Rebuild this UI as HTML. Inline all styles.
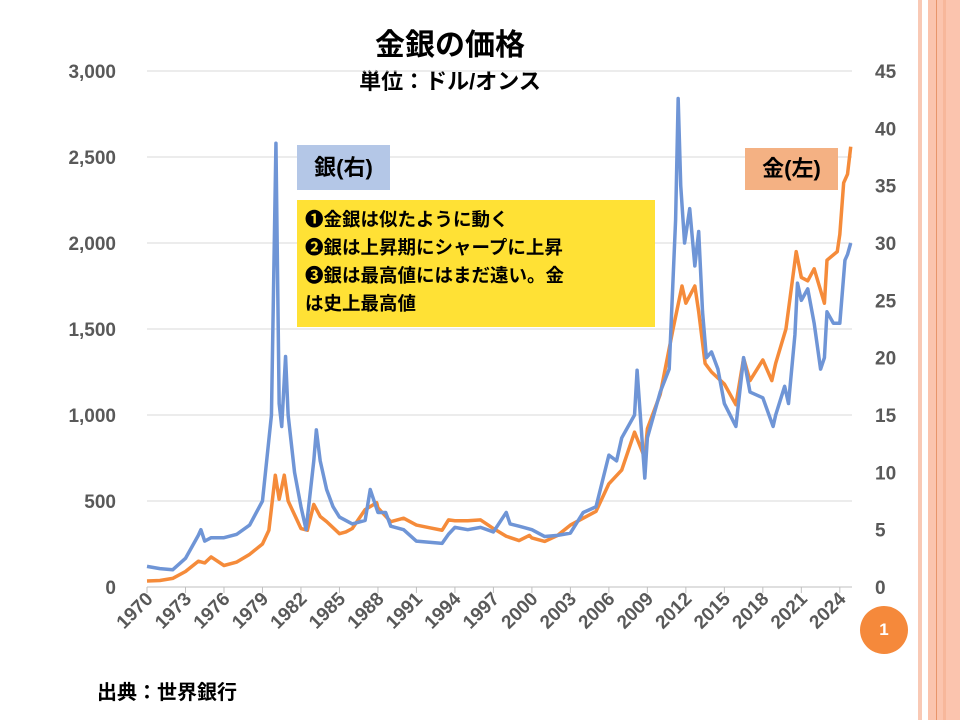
<!DOCTYPE html>
<html><head><meta charset="utf-8"><style>
body{margin:0;width:960px;height:720px;overflow:hidden;background:#fff;font-family:"Liberation Sans","Noto Sans CJK JP",sans-serif;position:relative}
.abs{position:absolute}
</style></head><body>
<div class="abs" style="left:918px;top:0;width:4px;height:720px;background:#f9c9b5"></div>
<div class="abs" style="left:928px;top:0;width:32px;height:720px;background:#fbc4ae"></div>
<div class="abs" style="left:936px;top:0;width:1px;height:720px;background:#e8956b"></div>
<div class="abs" style="left:943px;top:0;width:3px;height:720px;background:#f7b79b"></div>
<div class="abs" style="left:300px;top:20px;width:300px;text-align:center;font-size:30px;font-weight:bold">金銀の価格</div>
<div class="abs" style="left:300px;top:64px;width:300px;text-align:center;font-size:22px;font-weight:bold">単位：ドル/オンス</div>
<svg class="abs" style="left:0;top:0" width="960" height="720" id="chart"></svg>
<div class="abs" style="left:297px;top:145px;width:93px;height:45px;background:#b4c7e7;font-size:22px;font-weight:bold;line-height:45px;text-align:center">銀(右)</div>
<div class="abs" style="left:745px;top:148px;width:93px;height:42px;background:#f4b183;font-size:22px;font-weight:bold;line-height:42px;text-align:center">金(左)</div>
<div class="abs" style="left:297px;top:200px;width:350px;height:114px;padding:6px 0 7px 8px;background:#ffe135;font-size:18.5px;font-weight:bold;line-height:28px">❶金銀は似たように動く<br>❷銀は上昇期にシャープに上昇<br>❸銀は最高値にはまだ遠い。金<br>は史上最高値</div>
<div class="abs" style="left:97px;top:676px;font-size:20px;font-weight:bold">出典：世界銀行</div>
<div class="abs" style="left:860px;top:606px;width:48px;height:48px;border-radius:50%;background:#f5893b;color:#fff;font-size:17px;font-weight:bold;line-height:48px;text-align:center">1</div>
<script>
const goldYears=[1970,1971,1972,1973,1974,1974.5,1975,1976,1977,1978,1979,1979.5,1980.0,1980.3,1980.7,1981,1981.5,1982,1982.5,1983,1983.5,1984,1985,1985.5,1986,1987,1987.9,1988,1989,1990,1991,1992,1993,1993.5,1994,1995,1996,1997,1998,1999,1999.8,2000,2001,2002,2003,2004,2005,2006,2007,2008,2008.8,2009,2010,2011,2011.7,2012,2012.7,2013,2013.5,2014,2015,2015.9,2016.5,2017,2018,2018.7,2019,2019.8,2020.6,2021,2021.5,2022,2022.8,2023,2023.8,2024,2024.3,2024.6,2024.85];
const goldValues=[35,38,50,90,150,140,175,125,145,190,250,330,650,510,650,500,420,340,330,480,410,380,310,320,340,450,490,460,380,400,360,345,330,390,385,385,390,340,295,270,300,285,265,300,360,400,440,600,680,900,750,920,1120,1500,1750,1650,1750,1600,1300,1250,1180,1060,1330,1200,1320,1200,1300,1500,1950,1800,1780,1850,1650,1900,1950,2050,2350,2400,2560];
const silverYears=[1970,1971,1972,1973,1974,1974.2,1974.5,1975,1976,1977,1978,1979,1979.7,1980.05,1980.3,1980.5,1980.8,1981,1981.5,1982,1982.4,1983,1983.2,1983.5,1984,1984.5,1985,1986,1987,1987.4,1988,1988.6,1989,1990,1991,1992,1993,1993.5,1994,1995,1996,1997,1998,1998.3,1999,2000,2001,2002,2003,2004,2005,2006,2006.6,2007,2008,2008.2,2008.8,2009,2010,2010.7,2011.2,2011.4,2011.6,2011.9,2012.3,2012.7,2013,2013.3,2013.6,2014,2014.5,2015,2015.9,2016.5,2017,2018,2018.8,2019,2019.7,2020,2020.5,2020.7,2021,2021.5,2022,2022.5,2022.8,2023,2023.5,2024,2024.4,2024.6,2024.85];
const silverValues=[1.8,1.6,1.5,2.5,4.5,5.0,4.0,4.3,4.3,4.6,5.4,7.5,15,38.7,16,14,20.1,15,10,7,5.0,11,13.7,11,8.5,7,6.1,5.5,5.8,8.5,6.5,6.5,5.3,5.0,4.0,3.9,3.8,4.6,5.2,5.0,5.2,4.8,6.5,5.5,5.3,5.0,4.4,4.5,4.7,6.5,7.0,11.5,11,13,15,18.9,9.5,13,17,19,32,42.6,35,30,33,28,31,24,20,20.5,19,16,14,20,17,16.5,14,15,17.5,16,22,26.5,25,26,23,19,20,24,23,23,28.5,29,30];
const leftTicks=[0,500,1000,1500,2000,2500,3000];
const leftTickLabels=["0","500","1,000","1,500","2,000","2,500","3,000"];
const rightTicks=[0,5,10,15,20,25,30,35,40,45];
const xTicks=[1970,1973,1976,1979,1982,1985,1988,1991,1994,1997,2000,2003,2006,2009,2012,2015,2018,2021,2024];

const svg=document.getElementById('chart');const NS='http://www.w3.org/2000/svg';
const X0=147,Y0=587,Ytop=71;
const xs=y=>X0+(y-1970)*12.83;
const yl=v=>Y0-(v/3000)*(Y0-Ytop);
const yr=v=>Y0-(v/45)*(Y0-Ytop);
function mk(t,a){const e=document.createElementNS(NS,t);for(const k in a)e.setAttribute(k,a[k]);svg.appendChild(e);return e;}
leftTicks.forEach((v,i)=>{
 const g=mk('line',{x1:X0,x2:852,y1:yl(v),y2:yl(v),stroke:i==0?'#bfbfbf':'#d9d9d9','stroke-width':1});
 
 
 const t=mk('text',{x:116,y:yl(v)+7,'text-anchor':'end','font-size':19,'font-weight':'bold',fill:'#595959','font-family':'Liberation Sans,sans-serif'});
 t.textContent=leftTickLabels[i];
 
 
});
rightTicks.forEach(v=>{
 const t=mk('text',{x:875,y:yr(v)+7,'text-anchor':'start','font-size':19,'font-weight':'bold',fill:'#595959','font-family':'Liberation Sans,sans-serif'});
 t.textContent=String(v);
 
 
});
xTicks.forEach(y=>{
 const l=mk('line',{x1:xs(y),x2:xs(y),y1:Y0,y2:Y0+6,stroke:'#bfbfbf'});
 
 
 const x=xs(y)+7,yy=Y0+13;
 const t=mk('text',{x:x,y:yy,'text-anchor':'end','font-size':19,'font-weight':'bold',fill:'#595959','font-family':'Liberation Sans,sans-serif',transform:`rotate(-45 ${x} ${yy})`});
 t.textContent=String(y);
 
 
});
const gp=mk('polyline',{points:goldYears.map((y,i)=>xs(y)+','+yl(goldValues[i])).join(' '),fill:'none',stroke:'#f58b3a','stroke-width':3.5,'stroke-linejoin':'round'});


const sp=mk('polyline',{points:silverYears.map((y,i)=>xs(y)+','+yr(silverValues[i])).join(' '),fill:'none',stroke:'#6f95d6','stroke-width':3.5,'stroke-linejoin':'round'});


</script>
</body></html>
